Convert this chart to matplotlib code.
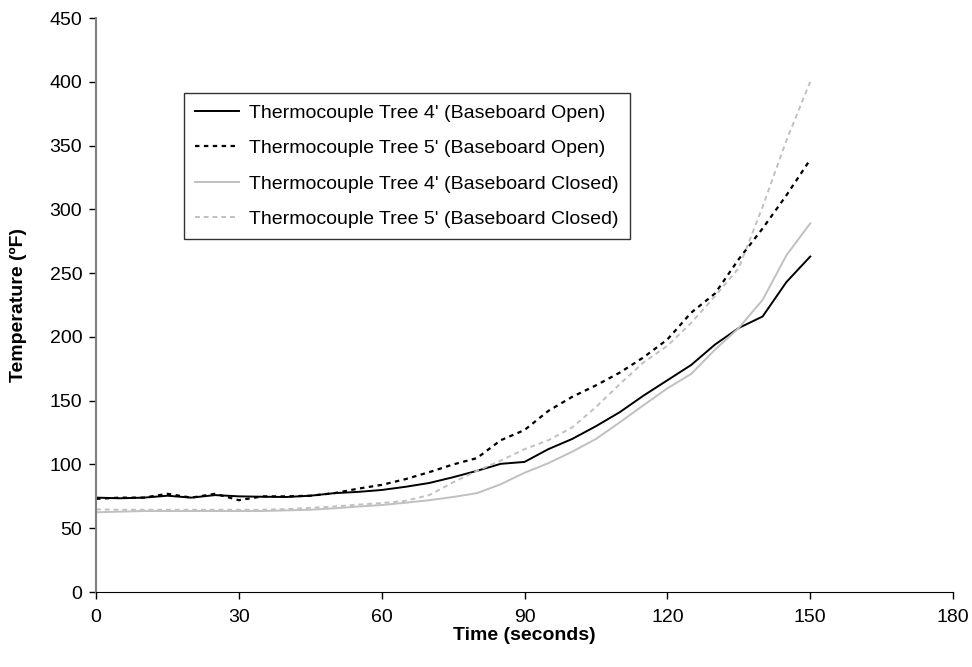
import matplotlib
matplotlib.use("Agg")
import matplotlib.pyplot as plt

# time in seconds
time_s = [0, 5, 10, 15, 20, 25, 30, 35, 40, 45, 50, 55, 60, 65, 70, 75,
          80, 85, 90, 95, 100, 105, 110, 115, 120, 125, 130, 135, 140, 145, 150]

# temperatures (F)
tree4_open = [74, 73.5, 74, 75.5, 74, 76, 75, 74.7, 74.5, 75.5, 77.5, 78.5, 80, 82.5, 85.5, 90,
              95, 100.5, 102, 112, 120, 130, 141, 154, 166, 178, 194, 207, 216, 243, 263]
tree5_open = [73, 74, 74, 77, 74, 77, 72, 75, 75, 75.5, 77.5, 81, 84, 88.5, 94, 100,
              105, 119, 127, 142, 153, 162, 172, 184, 198, 219, 234, 261, 285, 311, 339]
tree4_closed = [62.5, 63, 63.5, 63.5, 63.5, 63.5, 63.5, 63.5, 64, 64.5, 65.6, 67, 68.2, 70, 72, 74.5,
                77.5, 84.5, 93.5, 101, 110, 120, 133, 146.5, 159.7, 171, 190, 207, 229, 264, 289]
tree5_closed = [64.8, 64.5, 64.5, 64.5, 64.5, 64.5, 64.5, 64.5, 65, 66, 67, 68.5, 69.8, 71.5, 76, 86,
                95, 103, 112, 119, 129, 145, 163, 180, 193, 211, 232, 254, 302, 354, 400]

labels = ["Thermocouple Tree 4' (Baseboard Open)",
          "Thermocouple Tree 5' (Baseboard Open)",
          "Thermocouple Tree 4' (Baseboard Closed)",
          "Thermocouple Tree 5' (Baseboard Closed)"]

plt.rcParams['font.family'] = ['Liberation Sans', 'DejaVu Sans']
fs = 14

fig = plt.figure(figsize=(9.72, 6.67), dpi=100)
ax = fig.add_axes([0.0988, 0.1124, 0.8817, 0.8606])

grey = '#c0c0c0'
ax.plot(time_s, tree4_open, color='black', lw=1.4, label=labels[0])
ax.plot(time_s, tree5_open, color='black', lw=1.6, ls=(0, (2, 2)), label=labels[1])
ax.plot(time_s, tree4_closed, color=grey, lw=1.4, label=labels[2])
ax.plot(time_s, tree5_closed, color=grey, lw=1.4, ls=(0, (2.5, 2)), label=labels[3])

ax.set_xlim(0, 180)
ax.set_ylim(0, 450)
ax.set_xticks(range(0, 181, 30))
ax.set_yticks(range(0, 451, 50))
ax.tick_params(labelsize=fs, direction='out', length=5, width=1, color='black')
ax.tick_params(axis='x', pad=7)
ax.tick_params(axis='y', pad=5)

for s in ['top', 'right']:
    ax.spines[s].set_visible(False)
ax.spines['left'].set_color('#808080')
ax.spines['left'].set_linewidth(1.5)
ax.spines['bottom'].set_color('black')

ax.set_xlabel('Time (seconds)', fontsize=fs, fontweight='bold', labelpad=1)
ax.set_ylabel('Temperature (ºF)', fontsize=fs, fontweight='bold', labelpad=16)

leg = ax.legend(loc='upper left', bbox_to_anchor=(0.1027, 0.869), borderaxespad=0,
                fontsize=fs, frameon=True, fancybox=False, edgecolor='black',
                handlelength=2.3, handletextpad=0.5, labelspacing=0.92, borderpad=0.55)
leg.get_frame().set_linewidth(1)

fig.savefig('out.png', dpi=100)
